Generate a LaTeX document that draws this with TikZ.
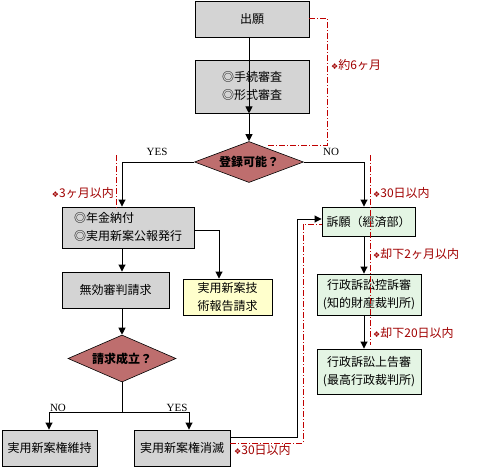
\documentclass[tikz,border=0pt]{standalone}
\usepackage{fontspec}
\setmainfont{Liberation Serif}
\newfontfamily\jp{Noto Sans CJK JP}
\newfontfamily\dv{DejaVu Sans}
\usetikzlibrary{arrows.meta,shapes.geometric,calc}
\definecolor{grayfill}{RGB}{212,212,212}
\definecolor{greenfill}{RGB}{228,245,228}
\definecolor{yellowfill}{RGB}{255,255,204}
\definecolor{diafill}{RGB}{190,110,110}
\definecolor{redline}{RGB}{192,0,0}
\definecolor{redtext}{RGB}{160,0,0}
\begin{document}
\begin{tikzpicture}[x=1pt,y=-1pt,
  box/.style={draw=black,line width=0.9pt,inner sep=2pt,font=\jp\fontsize{12}{18}\selectfont,align=center},
  graybox/.style={box,fill=grayfill},
  greenbox/.style={box,fill=greenfill},
  yellowbox/.style={box,fill=yellowfill},
  dia/.style={diamond,draw=black,line width=0.6pt,fill=diafill,inner sep=0pt,font=\jp\bfseries\fontsize{12}{14}\selectfont},
  arr/.style={line width=0.9pt,-{Triangle[width=7pt,length=7pt]}},
  ln/.style={line width=0.9pt},
  red/.style={draw=redline,line width=0.8pt,dash pattern=on 6pt off 2pt on 1pt off 2pt},
  rlab/.style={text=redtext,font=\jp\fontsize{12}{14}\selectfont,inner sep=1pt},
  yn/.style={font=\fontsize{11}{13}\selectfont,inner sep=1pt}
]
\useasboundingbox (0,0) rectangle (487,469);
% nodes
\node[graybox,minimum width=114pt,minimum height=36pt] (chu) at (252,19) {出願};
\node[graybox,minimum width=114pt,minimum height=53pt] (shin) at (252,86.5) {\begin{tabular}{@{}l@{}}◎手続審査\\◎形式審査\end{tabular}};
\node[dia,minimum width=109pt,minimum height=41pt,aspect=2.6] (d1) at (249,162) {登録可能？};
\node[graybox,minimum width=132pt,minimum height=41pt,align=left] (A) at (128,227.5) {\begin{tabular}{@{}l@{}}◎年金納付\\◎実用新案公報発行\end{tabular}};
\node[graybox,minimum width=107pt,minimum height=36pt] (B) at (115.5,290) {無効審判請求};
\node[yellowbox,minimum width=89pt,minimum height=36pt] (C) at (227.5,297) {実用新案技\\術報告請求};
\node[dia,minimum width=108pt,minimum height=47pt,aspect=2.3] (d2) at (122,358.5) {請求成立？};
\node[graybox,minimum width=95pt,minimum height=36pt] (D) at (49.5,448) {実用新案権維持};
\node[graybox,minimum width=96pt,minimum height=36pt] (E) at (182,448) {実用新案権消滅};
\node[greenbox,minimum width=93pt,minimum height=29pt] (F) at (368.5,221.5) {訴願（經済部）};
\node[greenbox,minimum width=104pt,minimum height=41pt] (G) at (369,294.5) {行政訴訟控訴審\\(知的財産裁判所)};
\node[greenbox,minimum width=104pt,minimum height=45pt] (H) at (369,371.5) {行政訴訟上告審\\(最高行政裁判所)};
% helper coordinates
\coordinate (xL) at (122,0);
\coordinate (xC) at (219,0);
\coordinate (xR) at (364,0);
\coordinate (xM) at (249,0);
\coordinate (j2) at (122,412);
\coordinate (jNO) at (49,412);
\coordinate (jYES) at (189,412);
\coordinate (b1) at (297,437);
\coordinate (b2) at (297,219);
\coordinate (r1) at (327,18);
\coordinate (r2) at (327,145);
\coordinate (r3) at (267,145);
\coordinate (rl1) at (116,155);
\coordinate (rl2) at (116,210);
\coordinate (rr1) at (370,155);
\coordinate (rr2) at (370,345);
\coordinate (rb1) at (303,443);
\coordinate (rb2) at (303,224);
% black connectors
\draw[arr] (chu.south -| xM) -- (shin.south -| xM |- shin.north);
\draw[arr] (shin.south -| xM) -- (d1.north);
\draw[arr] (d1.west) -| (A.north -| xL);
\draw[arr] (d1.east) -| (F.north -| xR);
\draw[arr] (A.south -| xL) -- (B.north -| xL);
\draw[arr] (A.east |- 0,230) -| (C.north -| xC);
\draw[arr] (B.south -| xL) -- (d2.north);
\draw[ln] (d2.south) -- (j2);
\draw[ln] (jNO) -- (jYES);
\draw[arr] (jNO) -- (D.north -| jNO);
\draw[arr] (jYES) -- (E.north -| jYES);
\draw[arr] (F.south -| xR) -- (G.north -| xR);
\draw[arr] (G.south -| xR) -- (H.north -| xR);
\draw[arr] (E.east |- b1) -- (b1) -- (b2) -- (F.west |- b2);
% red dash-dot lines
\draw[red] (chu.east |- r1) -- (r1) -- (r2) -- (r3);
\draw[red] (rl1) -- (rl2);
\draw[red] (rr1) -- (rr2);
\draw[red] (E.east |- rb1) -- (rb1) -- (rb2) -- (F.west |- rb2);
% labels
\node[yn] (yes1) at (157,152) {YES};
\node[yn] (no1) at (331,152) {NO};
\node[yn] (no2) at (58,408) {NO};
\node[yn] (yes2) at (177,408) {YES};
\node[rlab,anchor=west] (l6) at (330,65) {{\dv\fontsize{8}{10}\selectfont ❖}約6ヶ月};
\node[rlab,anchor=east] (l3m) at (115,193) {{\dv\fontsize{8}{10}\selectfont ❖}3ヶ月以内};
\node[rlab,anchor=west] (l30a) at (372,193) {{\dv\fontsize{8}{10}\selectfont ❖}30日以内};
\node[rlab,anchor=west] (l2m) at (372,254) {{\dv\fontsize{8}{10}\selectfont ❖}却下2ヶ月以内};
\node[rlab,anchor=west] (l20) at (372,333) {{\dv\fontsize{8}{10}\selectfont ❖}却下20日以内};
\node[rlab,anchor=west] (l30b) at (233,450) {{\dv\fontsize{8}{10}\selectfont ❖}30日以内};
\end{tikzpicture}
\end{document}
